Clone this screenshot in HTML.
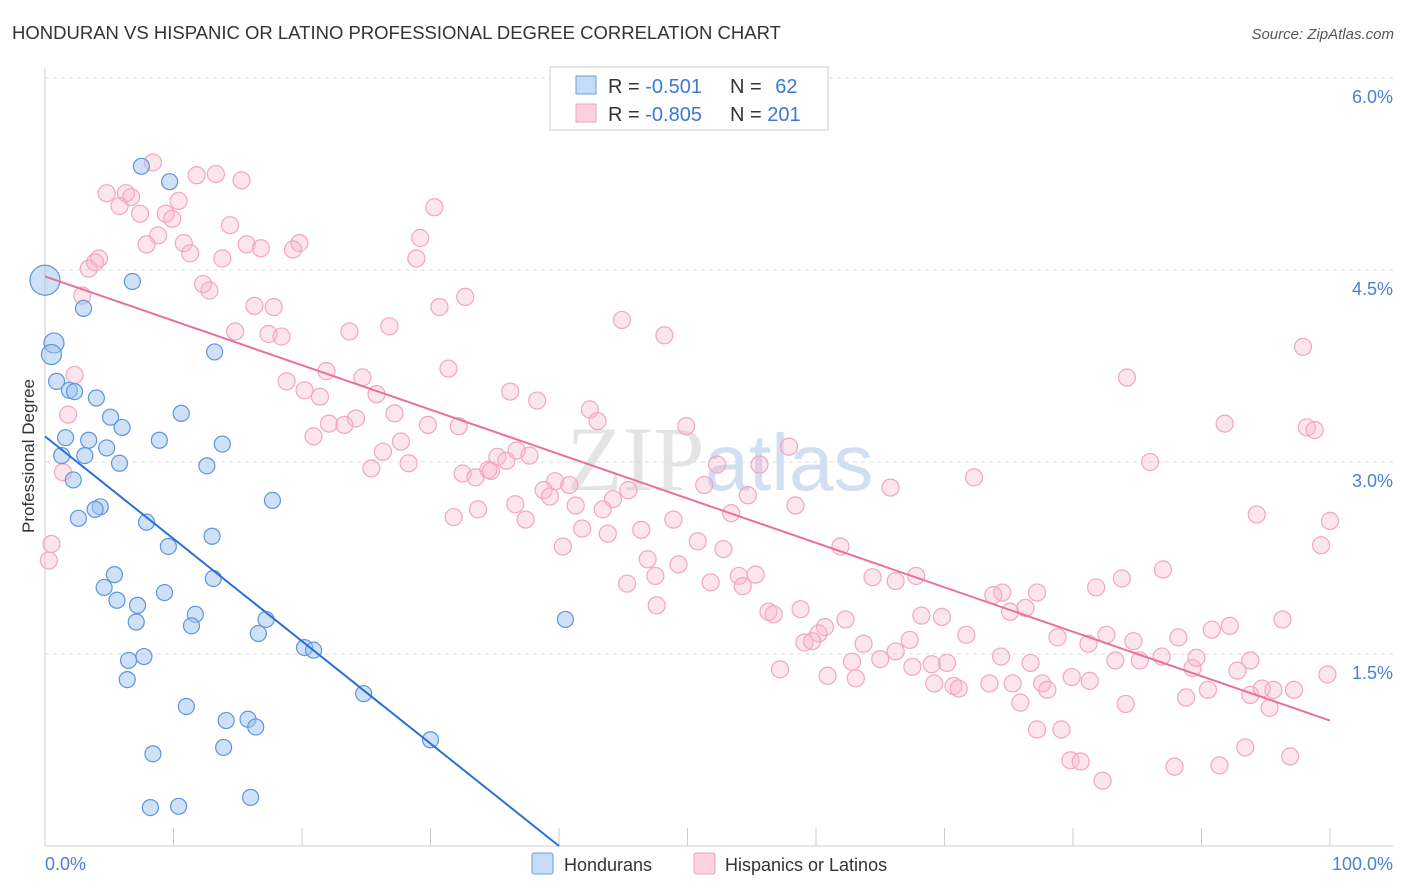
<!DOCTYPE html>
<html><head><meta charset="utf-8">
<style>
body{margin:0;background:#fff;font-family:"Liberation Sans",sans-serif;}
svg{display:block}
</style></head>
<body>
<svg id="chart" width="1406" height="892" viewBox="0 0 1406 892">
<text x="12" y="39" font-size="18.5" fill="#333">HONDURAN VS HISPANIC OR LATINO PROFESSIONAL DEGREE CORRELATION CHART</text>
<text x="1394" y="39" font-size="15" fill="#555" font-style="italic" text-anchor="end">Source: ZipAtlas.com</text>
<text x="720" y="490" font-size="92" fill="#e4e4e4" text-anchor="middle" font-family="Liberation Serif,serif">ZIP<tspan fill="#d0dff2" font-family="Liberation Sans,sans-serif" font-size="80">atlas</tspan></text>
<g id="grid"></g>
<g id="axes"></g>
<g id="pts"></g>
<g id="lines"></g>
<text x="34" y="456" font-size="17" fill="#333" text-anchor="middle" transform="rotate(-90 34 456)">Professional Degree</text>
<g>
<rect x="550" y="67" width="278" height="63" fill="#fff" stroke="#ccc"/>
<rect x="576" y="76" width="20" height="18" fill="rgba(160,195,240,0.6)" stroke="#6a9ee0"/>
<text x="608" y="93" font-size="20" fill="#333">R = <tspan fill="#3b78d8">-0.501</tspan></text>
<text x="730" y="93" font-size="20" fill="#333">N = <tspan fill="#3b78d8" dx="8">62</tspan></text>
<rect x="576" y="104" width="20" height="18" fill="rgba(248,180,200,0.6)" stroke="#f0a0b8"/>
<text x="608" y="121" font-size="20" fill="#333">R = <tspan fill="#3b78d8">-0.805</tspan></text>
<text x="730" y="121" font-size="20" fill="#333">N = <tspan fill="#3b78d8">201</tspan></text>
</g>
<g>
<rect x="532" y="853" width="21" height="21" fill="rgba(160,195,240,0.6)" stroke="#6a9ee0" rx="2"/>
<text x="564" y="871" font-size="18" fill="#333">Hondurans</text>
<rect x="694" y="853" width="21" height="21" fill="rgba(248,180,200,0.6)" stroke="#f0a0b8" rx="2"/>
<text x="725" y="871" font-size="18" fill="#333">Hispanics or Latinos</text>
</g>
</svg>
<script>
const yTicks=[1.5,3.0,4.5,6.0];
const yTickLabels=["1.5%","3.0%","4.5%","6.0%"];
const xTicks=[0,10,20,30,40,50,60,70,80,90,100];
const xEndLabels=["0.0%","100.0%"];
const blueX=[0,7.5,9.7,6.8,3.0,0.7,0.5,13.2,0.9,1.9,2.3,4.0,10.6,5.1,6.0,1.6,3.4,8.9,13.8,4.8,3.1,1.3,5.8,12.6,2.2,17.7,4.3,3.9,2.6,7.9,13.0,9.6,5.4,13.1,4.6,5.6,9.3,7.2,11.7,17.2,7.1,11.4,16.6,20.2,20.9,7.7,6.5,6.4,24.8,11.0,14.1,15.8,16.4,13.9,30.0,8.4,16.0,10.4,8.2,40.5];
const blueY=[4.42,5.31,5.19,4.41,4.20,3.93,3.84,3.86,3.63,3.56,3.55,3.50,3.38,3.35,3.27,3.19,3.17,3.17,3.14,3.11,3.05,3.05,2.99,2.97,2.86,2.70,2.65,2.63,2.56,2.53,2.42,2.34,2.12,2.09,2.02,1.92,1.98,1.88,1.81,1.77,1.75,1.72,1.66,1.55,1.53,1.48,1.45,1.30,1.19,1.09,0.98,0.99,0.93,0.77,0.83,0.72,0.38,0.31,0.30,1.77];
const pinkX=[8.4,4.8,6.3,6.7,11.8,13.3,15.3,5.8,10.4,9.4,7.4,9.9,30.3,14.4,8.8,7.9,10.8,15.7,16.8,19.8,19.3,29.2,11.3,13.8,28.9,4.2,3.4,3.9,12.3,12.8,2.9,32.7,16.3,17.8,30.7,44.9,26.8,14.8,23.7,17.4,18.4,48.2,2.3,31.4,21.9,18.8,24.7,20.2,21.4,25.8,36.2,38.3,27.2,1.8,24.2,42.4,22.1,23.3,43.0,29.8,32.2,27.7,49.9,20.9,26.3,35.2,35.9,36.7,37.7,28.3,25.4,34.5,32.5,33.5,34.7,52.3,55.6,57.9,39.7,40.8,38.8,39.3,45.4,36.6,33.7,31.8,41.3,44.2,43.4,51.3,54.7,65.8,72.3,37.4,41.8,43.8,46.4,48.9,53.4,58.4,50.8,52.8,40.3,46.9,49.3,61.9,45.3,47.5,54.0,55.3,54.3,51.8,64.4,66.2,67.8,74.5,73.8,77.2,81.8,83.8,87.0,47.6,56.3,56.7,58.8,62.3,68.2,69.8,75.1,76.3,60.7,60.2,59.1,59.7,63.7,66.2,67.3,71.7,78.8,82.6,84.7,88.2,90.8,92.2,96.3,93.8,57.2,62.8,65.0,63.1,69.0,70.2,74.4,76.7,81.2,83.3,85.2,86.9,89.3,89.6,67.5,69.2,60.9,77.6,79.9,81.3,78.0,70.7,71.1,73.5,75.3,75.9,84.1,88.8,90.5,92.8,93.8,94.7,95.6,97.2,95.3,99.8,77.2,79.1,79.8,80.6,82.3,87.9,91.4,93.4,96.9,84.2,97.9,91.8,98.2,98.8,86.0,94.3,100,99.3,0.5,0.3,1.4];
const pinkY=[5.34,5.10,5.10,5.07,5.24,5.25,5.20,5.00,5.04,4.94,4.94,4.90,4.99,4.85,4.77,4.70,4.71,4.70,4.67,4.71,4.66,4.75,4.63,4.59,4.59,4.59,4.51,4.56,4.39,4.34,4.30,4.29,4.22,4.21,4.21,4.11,4.06,4.02,4.02,4.00,3.98,3.99,3.68,3.73,3.71,3.63,3.66,3.56,3.51,3.53,3.55,3.48,3.38,3.37,3.34,3.41,3.30,3.29,3.32,3.29,3.28,3.16,3.28,3.20,3.08,3.04,3.01,3.09,3.05,2.99,2.95,2.94,2.91,2.88,2.93,2.98,2.98,3.12,2.85,2.82,2.78,2.73,2.78,2.67,2.63,2.57,2.66,2.71,2.63,2.82,2.74,2.80,2.88,2.55,2.48,2.44,2.47,2.55,2.60,2.66,2.38,2.32,2.34,2.24,2.20,2.34,2.05,2.11,2.11,2.12,2.03,2.06,2.10,2.07,2.11,1.98,1.96,1.98,2.02,2.09,2.16,1.88,1.83,1.81,1.85,1.77,1.80,1.79,1.83,1.86,1.71,1.66,1.59,1.60,1.58,1.52,1.61,1.65,1.63,1.65,1.60,1.63,1.69,1.72,1.77,1.45,1.38,1.44,1.46,1.31,1.42,1.43,1.48,1.43,1.58,1.45,1.45,1.48,1.39,1.47,1.40,1.27,1.33,1.27,1.32,1.29,1.22,1.25,1.23,1.27,1.27,1.12,1.11,1.16,1.22,1.37,1.18,1.23,1.22,1.22,1.08,1.34,0.91,0.91,0.67,0.66,0.51,0.62,0.63,0.77,0.70,3.66,3.90,3.30,3.27,3.25,3.00,2.59,2.54,2.35,2.36,2.23,2.92];
const blueTrend=[3.20,0.0,40.0];
const pinkTrend=[4.45,0.98,100];

const NS="http://www.w3.org/2000/svg";
const X0=45,X1=1330,Y0=846,PPU=128;
const sx=v=>X0+v*(X1-X0)/100;
const sy=v=>Y0-v*PPU;
function mk(tag,attrs,parent){const e=document.createElementNS(NS,tag);for(const k in attrs)e.setAttribute(k,attrs[k]);document.getElementById(parent).appendChild(e);return e;}

yTicks.forEach((t,i)=>{
  const g=mk('line',{x1:45,x2:1393,y1:sy(t),y2:sy(t),stroke:'#ddd','stroke-dasharray':'4,4'},'grid');
  
  
  const l=mk('text',{x:1393,y:sy(t)+25,'font-size':18,fill:'#4a80d8','text-anchor':'end'},'axes');
  l.textContent=yTickLabels[i];
  
  
});
const ax=mk('line',{x1:45,x2:1393,y1:Y0,y2:Y0,stroke:'#ccc'},'axes');


const ay=mk('line',{x1:45,x2:45,y1:68,y2:Y0,stroke:'#ccc'},'axes');


xTicks.forEach(t=>{
  const e=mk('line',{x1:sx(t),x2:sx(t),y1:Y0,y2:Y0-18,stroke:'#ccc'},'axes');
  
  
});
const xl0=mk('text',{x:45,y:870,'font-size':18,fill:'#4a80d8'},'axes');xl0.textContent=xEndLabels[0];


const xl1=mk('text',{x:1393,y:870,'font-size':18,fill:'#4a80d8','text-anchor':'end'},'axes');xl1.textContent=xEndLabels[1];



pinkX.forEach((v,i)=>{
  const c=mk('circle',{cx:sx(v),cy:sy(pinkY[i]),r:8.5,fill:'rgba(248,180,200,0.35)',stroke:'#f2a6bf','stroke-width':1.2},'pts');
  
  
});
blueX.forEach((v,i)=>{
  const r=i===0?15:(i===5||i===6?10:8);
  const c=mk('circle',{cx:sx(v),cy:sy(blueY[i]),r:r,fill:'rgba(160,195,240,0.5)',stroke:'#5d95de','stroke-width':1.2},'pts');
  
  
});
const bl=mk('line',{x1:sx(0),y1:sy(blueTrend[0]),x2:sx(blueTrend[2]),y2:sy(blueTrend[1]),stroke:'#2a6fd6','stroke-width':2},'lines');


const pl=mk('line',{x1:sx(0),y1:sy(pinkTrend[0]),x2:sx(pinkTrend[2]),y2:sy(pinkTrend[1]),stroke:'#e8709a','stroke-width':2},'lines');


</script>
</body></html>
